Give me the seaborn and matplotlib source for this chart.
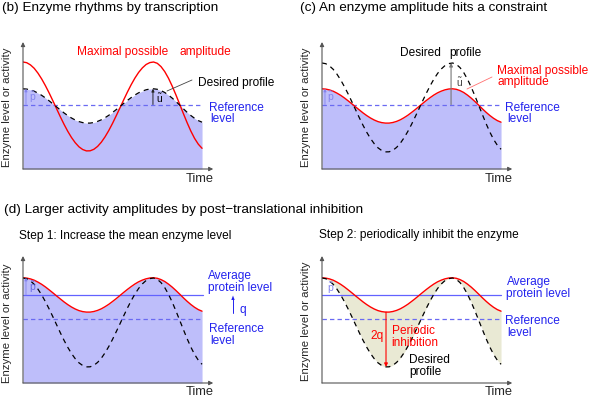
import matplotlib
matplotlib.use("Agg")
import matplotlib.pyplot as plt
import seaborn as sns

# ==============================
# Values
# ==============================
TIME = [0, 0.25, 0.5, 0.75, 1, 1.25, 1.5, 1.75, 2, 2.25, 2.5, 2.75, 3,
        3.25, 3.5, 3.75, 4, 4.25, 4.5, 4.75, 5, 5.25, 5.5, 5.75, 6,
        6.25, 6.5, 6.75, 7, 7.25, 7.5, 7.75, 8, 8.25, 8.5, 8.75, 9,
        9.25, 9.5, 9.75, 10, 10.25, 10.5, 10.75, 11, 11.25, 11.5, 11.75, 12]

# (b) transcription only
B_MAX_POSSIBLE = [10.70, 10.63, 10.41, 10.07, 9.59, 9.01, 8.34, 7.61, 6.83, 6.03, 5.23, 4.47, 3.77,
                  3.15, 2.63, 2.22, 1.95, 1.81, 1.82, 1.97, 2.26, 2.68, 3.22, 3.85, 4.56,
                  5.33, 6.12, 6.92, 7.70, 8.43, 9.09, 9.66, 10.11, 10.45, 10.64, 10.70, 10.57,
                  10.24, 9.74, 9.08, 8.29, 7.41, 6.48, 5.54, 4.63, 3.79, 3.06, 2.48, 2.07]
B_DESIRED = [8.02, 7.99, 7.91, 7.78, 7.59, 7.37, 7.11, 6.82, 6.52, 6.21, 5.91, 5.61, 5.34,
             5.10, 4.90, 4.74, 4.64, 4.59, 4.59, 4.65, 4.76, 4.92, 5.13, 5.37, 5.65,
             5.94, 6.25, 6.56, 6.86, 7.14, 7.40, 7.62, 7.79, 7.92, 8.00, 8.02, 7.97,
             7.84, 7.65, 7.39, 7.09, 6.75, 6.39, 6.02, 5.67, 5.35, 5.07, 4.84, 4.68]

# (c) amplitude hits a constraint
C_DESIRED = [10.60, 10.53, 10.31, 9.97, 9.49, 8.91, 8.24, 7.51, 6.73, 5.93, 5.13, 4.37, 3.67,
             3.05, 2.53, 2.12, 1.85, 1.71, 1.72, 1.87, 2.16, 2.58, 3.12, 3.75, 4.46,
             5.23, 6.02, 6.82, 7.60, 8.33, 8.99, 9.56, 10.01, 10.35, 10.54, 10.60, 10.47,
             10.14, 9.64, 8.98, 8.19, 7.31, 6.38, 5.44, 4.53, 3.69, 2.96, 2.38, 1.97]
C_MAX_POSSIBLE = [8.02, 7.99, 7.91, 7.78, 7.59, 7.37, 7.11, 6.82, 6.52, 6.21, 5.91, 5.61, 5.34,
                  5.10, 4.90, 4.74, 4.64, 4.59, 4.59, 4.65, 4.76, 4.92, 5.13, 5.37, 5.65,
                  5.94, 6.25, 6.56, 6.86, 7.14, 7.40, 7.62, 7.79, 7.92, 8.00, 8.02, 7.97,
                  7.84, 7.65, 7.39, 7.09, 6.75, 6.39, 6.02, 5.67, 5.35, 5.07, 4.84, 4.68]

# (d) raised mean level + periodic inhibition
D_PROTEIN = [10.52, 10.49, 10.41, 10.28, 10.09, 9.87, 9.61, 9.32, 9.02, 8.71, 8.41, 8.11, 7.84,
             7.60, 7.40, 7.24, 7.14, 7.09, 7.09, 7.15, 7.26, 7.42, 7.63, 7.87, 8.15,
             8.44, 8.75, 9.06, 9.36, 9.64, 9.90, 10.12, 10.29, 10.42, 10.50, 10.52, 10.47,
             10.34, 10.15, 9.89, 9.59, 9.25, 8.89, 8.52, 8.17, 7.85, 7.57, 7.34, 7.18]
D_DESIRED = [10.50, 10.43, 10.21, 9.87, 9.39, 8.81, 8.14, 7.41, 6.63, 5.83, 5.03, 4.27, 3.57,
             2.95, 2.43, 2.02, 1.75, 1.61, 1.62, 1.77, 2.06, 2.48, 3.02, 3.65, 4.36,
             5.13, 5.92, 6.72, 7.50, 8.23, 8.89, 9.46, 9.91, 10.25, 10.44, 10.50, 10.37,
             10.04, 9.54, 8.88, 8.09, 7.21, 6.28, 5.34, 4.43, 3.59, 2.86, 2.28, 1.87]

REF_LEVEL_BC = 6.45
REF_LEVEL_D = 6.4
AVG_LEVEL_D = 8.8

# ==============================
# Style / layout
# ==============================
W, H = 599, 398
PX_PER_T = 14.92
PX_PER_Y = 10.0
XMAX = 12.75
YMAX = 12.7
LINE_END = 12.07

RED = "#ff0000"
BLUE = "#2323ee"
REF_BLUE = "#6a6af2"
PBLUE = "#8484ee"
FILL_BLUE = "#bebefa"
FILL_BEIGE = "#e9e9d4"
AXIS_GREY = "#555555"

FS_TITLE = 9.7
FS_STEP = 8.6
FS_NOTE = 8.6
FS_YLAB = 8.2
FS_TIME = 9.3

sns.set_style("white")
plt.rcParams["font.family"] = ["Liberation Sans", "DejaVu Sans"]
plt.rcParams["mathtext.fontset"] = "custom"
plt.rcParams["mathtext.rm"] = "Liberation Sans"
plt.rcParams["mathtext.it"] = "Liberation Sans:italic"

fig = plt.figure(figsize=(W / 100, H / 100), dpi=100)


def make_panel(x0, y_axis_px):
    ax = fig.add_axes([x0 / W, 1 - y_axis_px / H, XMAX * PX_PER_T / W, YMAX * PX_PER_Y / H])
    ax.set_xlim(0, XMAX)
    ax.set_ylim(0, YMAX)
    ax.set_axis_off()
    arr = dict(arrowstyle="-|>", color=AXIS_GREY, lw=0.8, mutation_scale=6,
               shrinkA=0, shrinkB=0)
    ax.annotate("", xy=(0, YMAX), xytext=(0, 0), arrowprops=arr,
                annotation_clip=False, zorder=10)
    ax.annotate("", xy=(XMAX, 0), xytext=(0, 0), arrowprops=arr,
                annotation_clip=False, zorder=10)
    return ax


def arrow(ax, x, y0, y1, color, lw=0.8, ms=5):
    ax.annotate("", xy=(x, y1), xytext=(x, y0),
                arrowprops=dict(arrowstyle="-|>", color=color, lw=lw,
                                mutation_scale=ms, shrinkA=0, shrinkB=0),
                annotation_clip=False, zorder=8)


def txt(x, y, s, size=FS_NOTE, color="black", **kw):
    fig.text(x / W, 1 - y / H, s, fontsize=size, color=color, va="center", **kw)


def leader(x0, y0, x1, y1, color):
    fig.add_artist(plt.Line2D([x0 / W, x1 / W], [1 - y0 / H, 1 - y1 / H],
                              transform=fig.transFigure, color=color, lw=0.6))


def red_line(ax, y):
    sns.lineplot(x=TIME, y=y, ax=ax, color=RED, lw=1.0, zorder=6)


def dashed_line(ax, y):
    sns.lineplot(x=TIME, y=y, ax=ax, color="black", lw=0.9,
                 linestyle=(0, (4, 3.5)), zorder=7)


def ref_line(ax, level):
    ax.plot([0, LINE_END], [level, level], color=REF_BLUE, lw=0.9,
            linestyle=(0, (3.5, 2.5)), zorder=5)


# ==============================
# (b) Enzyme rhythms by transcription
# ==============================
ax_b = make_panel(23, 169)
ax_b.fill_between(TIME, 0, B_DESIRED, color=FILL_BLUE, lw=0, zorder=1)
ref_line(ax_b, REF_LEVEL_BC)
dashed_line(ax_b, B_DESIRED)
red_line(ax_b, B_MAX_POSSIBLE)
arrow(ax_b, 0.2, REF_LEVEL_BC, B_DESIRED[0], PBLUE, lw=0.6, ms=4)
arrow(ax_b, 8.71, REF_LEVEL_BC, max(B_DESIRED), "#222222", lw=0.7, ms=4)

txt(2, 8, "(b) Enzyme rhythms by transcription", size=FS_TITLE)
txt(77, 52, "Maximal possible", color=RED)
txt(179, 52, "amplitude", color=RED)
txt(198, 83, "Desired profile")
leader(167, 91, 192, 80, "#444444")
txt(209, 108, "Reference", color=BLUE)
txt(210.5, 119, "level", color=BLUE)
txt(156, 98, r"$\mathrm{\tilde{u}}$", size=7.5)
txt(29, 97, r"$\mathrm{\tilde{p}}$", size=7.5, color=PBLUE)

# ==============================
# (c) An enzyme amplitude hits a constraint
# ==============================
ax_c = make_panel(322, 169)
ax_c.fill_between(TIME, 0, C_MAX_POSSIBLE, color=FILL_BLUE, lw=0, zorder=1)
ref_line(ax_c, REF_LEVEL_BC)
red_line(ax_c, C_MAX_POSSIBLE)
dashed_line(ax_c, C_DESIRED)
arrow(ax_c, 0.2, REF_LEVEL_BC, C_MAX_POSSIBLE[0], PBLUE, lw=0.6, ms=4)
arrow(ax_c, 8.65, REF_LEVEL_BC, max(C_DESIRED), "#777777", lw=0.8, ms=5)

txt(300, 8, "(c) An enzyme amplitude hits a constraint", size=FS_TITLE)
txt(400, 53, "Desired")
txt(449, 53, "profile")
txt(497, 71, "Maximal possible", color=RED)
txt(497, 82, "amplitude", color=RED)
leader(467, 89, 492, 77, "#ff7070")
txt(505.5, 108, "Reference", color=BLUE)
txt(507.5, 119, "level", color=BLUE)
txt(455.5, 82, r"$\mathrm{\tilde{u}}$", size=7.5, color="#444444")
txt(327, 97, r"$\mathrm{\tilde{p}}$", size=7.5, color=PBLUE)

# ==============================
# (d) step 1: raise the mean enzyme level
# ==============================
ax_d1 = make_panel(23, 383)
ax_d1.fill_between(TIME, 0, D_PROTEIN, color=FILL_BLUE, lw=0, zorder=1)
ax_d1.plot([0, LINE_END], [AVG_LEVEL_D, AVG_LEVEL_D], color="#6262ff", lw=0.9, zorder=5)
ref_line(ax_d1, REF_LEVEL_D)
red_line(ax_d1, D_PROTEIN)
dashed_line(ax_d1, D_DESIRED)
arrow(ax_d1, 0.2, AVG_LEVEL_D, D_PROTEIN[0], PBLUE, lw=0.6, ms=4)

txt(4, 210, "(d) Larger activity amplitudes by post\u2212translational inhibition", size=FS_TITLE)
txt(19, 236.5, "Step 1: Increase the mean enzyme level", size=FS_STEP)
txt(208, 276, "Average", color=BLUE)
txt(208, 288, "protein level", color=BLUE)
txt(239, 310, "q", color=BLUE)
fig.add_artist(plt.Line2D([233 / W, 233 / W], [1 - 313 / H, 1 - 299 / H],
                          transform=fig.transFigure, color=BLUE, lw=0.7))
fig.add_artist(plt.Polygon([[231.3 / W, 1 - 300 / H], [234.7 / W, 1 - 300 / H],
                            [233 / W, 1 - 295.5 / H]], closed=True,
                           transform=fig.transFigure, color=BLUE, lw=0))
txt(209, 329, "Reference", color=BLUE)
txt(210.5, 340.5, "level", color=BLUE)
txt(29, 287, r"$\mathrm{\tilde{p}}$", size=7.5, color="#6868e6")

# ==============================
# (d) step 2: periodic inhibition
# ==============================
ax_d2 = make_panel(322, 383)
ax_d2.fill_between(TIME, D_DESIRED, D_PROTEIN, color=FILL_BEIGE, lw=0, zorder=1)
ax_d2.plot([0, 12.0], [AVG_LEVEL_D, AVG_LEVEL_D], color="#6262ff", lw=0.9, zorder=5)
ref_line(ax_d2, REF_LEVEL_D)
red_line(ax_d2, D_PROTEIN)
dashed_line(ax_d2, D_DESIRED)
arrow(ax_d2, 4.29, min(D_PROTEIN), min(D_DESIRED), RED, lw=0.8, ms=5)

txt(319, 235, "Step 2: periodically inhibit the enzyme", size=FS_STEP)
txt(506.5, 282, "Average", color=BLUE)
txt(506.5, 294, "protein level", color=BLUE)
txt(505.5, 321.5, "Reference", color=BLUE)
txt(507, 333.5, "level", color=BLUE)
txt(370, 336.5, "2q", color=RED)
txt(391.5, 331.5, "Periodic", color=RED)
txt(391.5, 342.5, "inhibition", color=RED)
txt(409, 360, "Desired")
txt(409, 371.5, "profile")
txt(327, 288, r"$\mathrm{\tilde{p}}$", size=7.5, color=PBLUE)

# axis labels for all four panels
for (x, y) in [(7, 107), (306, 107), (7, 323), (306, 321)]:
    fig.text(x / W, 1 - y / H, "Enzyme level or activity", fontsize=FS_YLAB,
             rotation=90, ha="center", va="center")
for (x, y) in [(200, 179), (499, 179), (200, 392), (499, 392)]:
    fig.text(x / W, 1 - y / H, "Time", fontsize=FS_TIME, ha="center", va="center")

fig.savefig("out.png", dpi=100)
